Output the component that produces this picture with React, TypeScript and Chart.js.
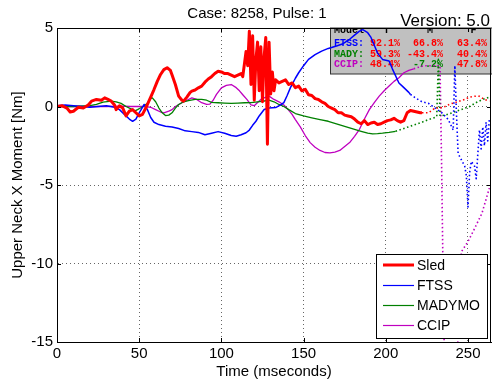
import React, { useEffect, useRef } from 'react';
import { Chart, registerables } from 'chart.js';
Chart.register(...registerables);

const FONT = '"Liberation Sans", Arial, sans-serif';
const MONO = '"Liberation Mono", "Courier New", monospace';

const chartTitle = 'Case: 8258, Pulse: 1';
const versionText = 'Version: 5.0';
const xLabel = 'Time (mseconds)';
const yLabel = 'Upper Neck X Moment [Nm]';
const xTicks = [0, 50, 100, 150, 200, 250];
const yTicks = [-15, -10, -5, 0, 5];

const seriesNames = ['Sled', 'FTSS', 'MADYMO', 'CCIP'];
const seriesColors = ['#ff0000', '#0000ff', '#008000', '#bf00bf'];
const seriesWidths = [3, 1.5, 1.3, 1.3];
// time after which the trace is drawn dotted
const dottedFrom = [222, 215, 206, 217];

const sledPoints = [
  [0, 0], [3, 0.05], [6, -0.1], [8, -0.35], [10, -0.3], [13, -0.05], [16, -0.1], [19, 0.1], [21, 0.34],
  [24, 0.45], [27, 0.4], [29, 0.55], [31, 0.45], [33, 0.34], [35, 0.1], [36, -0.2], [38, 0.05], [40, -0.1],
  [42, -0.6], [44, -0.3], [46, -0.2], [48, -0.4], [50, -0.6], [52, -0.5], [54, -0.1], [55, 0.13], [57, 0.6],
  [59, 1.08], [61, 1.6], [63, 2.04], [65, 2.35], [67, 2.47], [69, 2.3], [70, 2.0], [72, 1.4], [74, 0.66],
  [76, 0.4], [77, 0.34], [79, 0.6], [81, 0.9], [82, 0.98], [84, 1.05], [86, 1.19], [88, 1.3], [90, 1.55],
  [92, 1.75], [94, 1.9], [96, 2.1], [98, 2.25], [100, 2.2], [102, 2.1], [104, 2.1], [106, 2.0], [108, 1.9],
  [110, 2.0], [112, 2.1], [113, 1.9], [115, 3.5], [116, 2.6], [117, 4.8], [118, 1.4], [119, 4.5], [120, 0.4],
  [121, 3.0], [122, 4.1], [123, 1.0], [124, 3.8], [125, 0.3], [126, 3.2], [127, 4.4], [128, -2.4], [129, 4.1],
  [130, 0.8], [131, 2.2], [132, 1.0], [133, 1.7], [135, 1.5], [137, 1.6], [139, 1.7], [141, 1.4], [143, 1.5],
  [145, 1.2], [147, 1.3], [149, 1.0], [151, 1.1], [153, 0.75], [155, 0.7], [157, 0.5], [159, 0.45], [161, 0.3],
  [163, 0.2], [165, 0.0], [167, -0.1], [169, -0.2], [171, -0.4], [173, -0.4], [175, -0.55], [177, -0.6],
  [179, -0.65], [181, -0.8], [183, -1.0], [185, -1.1], [187, -0.9], [189, -1.15], [191, -1.05], [193, -1.0],
  [195, -1.15], [197, -1.1], [199, -1.0], [201, -0.9], [203, -0.85], [205, -0.75], [207, -0.9], [209, -1.0],
  [211, -0.9], [213, -0.4], [215, -0.25], [217, -0.3], [219, -0.35], [221, -0.4], [222, -0.4], [226, -0.4],
  [230, -0.1], [233, -0.1], [236, 0.0], [239, 0.15], [242, 0.25], [245, 0.35], [248, 0.45], [251, 0.6],
  [254, 0.65], [257, 0.65], [260, 0.45], [263, 0.35],
];

const ftssPoints = [
  [0, 0.05], [5, 0.1], [10, 0.05], [15, 0.0], [20, -0.05], [25, 0.0], [30, 0.05], [35, -0.05], [38, -0.2],
  [41, -0.5], [44, -0.8], [46, -0.94], [48, -0.8], [50, -0.4], [52, -0.05], [53, 0.13], [55, -0.2], [57, -0.7],
  [59, -1.0], [62, -1.15], [66, -1.26], [70, -1.3], [74, -1.4], [78, -1.55], [82, -1.6], [86, -1.65], [90, -1.8],
  [94, -1.7], [98, -1.6], [102, -1.7], [106, -1.85], [109, -1.9], [112, -1.8], [115, -1.67], [117, -1.5],
  [119, -1.2], [121, -0.94], [123, -0.6], [126, -0.19], [129, -0.1], [133, -0.07], [136, 0.1], [138, 0.25],
  [140, 0.7], [142, 1.2], [145, 1.8], [147, 2.15], [150, 2.6], [153, 3.0], [157, 3.3], [161, 3.53], [165, 3.7],
  [170, 3.85], [174, 4.0], [178, 4.28], [181, 4.55], [184, 4.8], [186, 4.9], [189, 4.7], [191, 4.4], [193, 3.9],
  [195, 3.4], [198, 3.0], [202, 2.9], [204, 2.4], [208, 1.5], [211, 1.2], [214, 0.9], [215, 0.77], [218, 0.55],
  [222, 0.3], [226, 0.2], [230, -0.1], [234, -0.39], [238, -0.83], [241, -1.5], [242, 2.6], [243, -0.5],
  [244, -3.0], [246, -3.4], [248, -3.8], [249, -4.4], [250, -6.4], [251, -4.2], [252, -3.5], [254, -3.8],
  [255, -4.6], [256, -3.0], [257, -1.5], [258, -2.7], [259, -1.3], [260, -2.5], [261, -1.0], [262, -2.2],
  [263, -0.8],
];

const madymoPoints = [
  [0, 0], [10, 0], [20, 0.05], [24, 0.13], [28, 0.28], [33, 0.34], [36, 0.3], [39, 0.2], [42, 0.0], [45, -0.15],
  [47, -0.3], [49, -0.2], [51, -0.08], [53, 0.05], [55, 0.2], [57, 0.5], [58, 0.55], [60, 0.3], [62, -0.1],
  [64, -0.4], [66, -0.58], [68, -0.55], [70, -0.4], [72, -0.1], [74, 0.13], [77, 0.3], [80, 0.38], [84, 0.45],
  [88, 0.45], [91, 0.4], [94, 0.26], [98, 0.24], [102, 0.22], [106, 0.2], [110, 0.22], [114, 0.24], [118, 0.25],
  [122, 0.3], [126, 0.35], [129, 0.4], [132, 0.3], [135, 0.13], [138, 0.0], [141, -0.2], [145, -0.45],
  [150, -0.6], [155, -0.72], [160, -0.83], [165, -0.94], [170, -1.1], [175, -1.26], [180, -1.42], [185, -1.58],
  [189, -1.7], [192, -1.75], [195, -1.73], [198, -1.7], [202, -1.65], [206, -1.58], [212, -1.36], [218, -1.15],
  [222, -1.0], [226, -0.83], [230, -0.7], [231, -0.65], [232, 3.0], [233, -0.6], [236, -0.55], [239, -0.45],
  [243, -0.3], [247, -0.15], [251, 0.0], [255, 0.25], [259, 0.45], [263, 0.6],
];

const ccipPoints = [
  [0, 0], [10, 0], [20, 0], [30, 0], [40, 0.02], [45, 0.0], [50, 0.0], [54, 0.0], [57, -0.05], [60, -0.2],
  [63, -0.35], [65, -0.4], [68, -0.3], [70, -0.2], [72, 0.0], [76, 0.24], [79, 0.4], [82, 0.55], [85, 0.45],
  [88, 0.24], [91, 0.13], [93, 0.15], [95, 0.4], [97, 0.77], [100, 1.19], [103, 1.35], [106, 1.4], [109, 1.2],
  [111, 1.0], [113, 0.75], [115.5, 0.45], [118, 0.1], [120, 0.05], [122, 0.25], [124, 0.45], [127, 0.6],
  [129, 0.66], [132, 0.45], [135, 0.3], [138, 0.1], [141, -0.25], [143, -0.5], [145, -0.83], [148, -1.3],
  [151, -1.85], [154, -2.3], [157, -2.6], [160, -2.8], [163, -2.93], [166, -2.96], [169, -2.9], [172, -2.8],
  [175, -2.55], [178, -2.3], [181, -1.9], [184, -1.45], [187, -0.8], [190, -0.2], [193, 0.25], [196, 0.66],
  [199, 1.0], [202, 1.3], [205, 1.6], [208, 1.83], [211, 2.15], [214, 2.3], [217, 2.4], [220, 2.5], [223, 2.6],
  [233, 2.6], [234, -4], [235, -12], [236, -18], [243, -18], [245, -11], [246, -9.25], [250, -8.6],
  [253.6, -7.86], [258.5, -6.8], [263, -5.2],
];

const allPoints = [sledPoints, ftssPoints, madymoPoints, ccipPoints];

// stats table
const tableHeader = ['Model', 'T', 'M', 'F'];
const tableRows = ['FTSS:', 'MADY:', 'CCIP:'];
const tableValues = [
  ['92.1%', '66.8%', '63.4%'],
  ['59.3%', '-43.4%', '40.4%'],
  ['48.4%', '-7.2%', '47.8%'],
];
const tableValueColors = [
  ['#ff0000', '#ff0000', '#ff0000'],
  ['#ff0000', '#ff0000', '#ff0000'],
  ['#ff0000', '#008000', '#ff0000'],
];

const decorPlugin = {
  id: 'decor',
  beforeDatasetsDraw(chart: any) {
    const { ctx, chartArea } = chart;
    const ca = chartArea;
    ctx.save();
    // gray stats box
    const bx = 330.5, by = ca.top, bw = ca.right - 330.5 + 2, bh = 74 - ca.top;
    ctx.fillStyle = '#c0c0c0';
    ctx.fillRect(bx, by, bw, bh);
    ctx.strokeStyle = '#333';
    ctx.lineWidth = 1;
    ctx.strokeRect(bx, by, bw, bh);
    ctx.beginPath();
    ctx.rect(bx, by, bw, bh);
    ctx.clip();
    ctx.font = 'bold 10px ' + MONO;
    ctx.textBaseline = 'alphabetic';
    const colCenters = [386.5, 430, 473.5];
    const colRights = [400, 443, 487];
    ctx.fillStyle = '#000';
    ctx.textAlign = 'left';
    ctx.fillText(tableHeader[0], 334, 33);
    ctx.textAlign = 'center';
    for (let i = 0; i < 3; i++) ctx.fillText(tableHeader[i + 1], colCenters[i], 33);
    const rowY = [46, 56.5, 66.5];
    for (let r = 0; r < 3; r++) {
      ctx.textAlign = 'left';
      ctx.fillStyle = seriesColors[r + 1];
      ctx.fillText(tableRows[r], 334, rowY[r]);
      ctx.textAlign = 'right';
      for (let c = 0; c < 3; c++) {
        ctx.fillStyle = tableValueColors[r][c];
        ctx.fillText(tableValues[r][c], colRights[c], rowY[r]);
      }
    }
    ctx.restore();
  },
  afterDatasetsDraw(chart: any) {
    const { ctx, chartArea } = chart;
    const ca = chartArea;
    const xs = chart.scales.x;
    const ys = chart.scales.y;
    ctx.save();
    ctx.setLineDash([]);
    // axes box
    ctx.strokeStyle = '#000';
    ctx.lineWidth = 1;
    ctx.strokeRect(Math.round(ca.left) + 0.5, Math.round(ca.top) + 0.5, Math.round(ca.right - ca.left) - 1, Math.round(ca.bottom - ca.top));
    // inward ticks
    ctx.beginPath();
    for (const v of xTicks) {
      const px = Math.round(xs.getPixelForValue(v)) + 0.5;
      ctx.moveTo(px, ca.bottom);
      ctx.lineTo(px, ca.bottom - 4);
      ctx.moveTo(px, ca.top);
      ctx.lineTo(px, ca.top + 4);
    }
    for (const v of yTicks) {
      const py = Math.round(ys.getPixelForValue(v)) + 0.5;
      ctx.moveTo(ca.left, py);
      ctx.lineTo(ca.left + 4, py);
      ctx.moveTo(ca.right, py);
      ctx.lineTo(ca.right - 4, py);
    }
    ctx.stroke();

    // legend
    const lx = 376.5, ly = 254.5, lw = 111, lh = 84;
    ctx.fillStyle = '#fff';
    ctx.fillRect(lx, ly, lw, lh);
    ctx.strokeStyle = '#000';
    ctx.lineWidth = 1;
    ctx.strokeRect(lx, ly, lw, lh);
    const rows = [265, 285.5, 305.5, 325.5];
    ctx.font = '14px ' + FONT;
    ctx.textBaseline = 'middle';
    ctx.textAlign = 'left';
    chart.data.datasets.forEach((ds: any, i: number) => {
      ctx.setLineDash([]);
      ctx.strokeStyle = seriesColors[i];
      ctx.lineWidth = i === 0 ? 3 : 1.2;
      ctx.beginPath();
      ctx.moveTo(383, rows[i]);
      ctx.lineTo(414, rows[i]);
      ctx.stroke();
      ctx.fillStyle = '#000';
      ctx.fillText(ds.label, 417, rows[i] + 1);
    });

    // title and version
    ctx.fillStyle = '#000';
    ctx.textBaseline = 'alphabetic';
    ctx.font = '15px ' + FONT;
    ctx.textAlign = 'center';
    ctx.fillText(chartTitle, 257, 18);
    ctx.font = '17px ' + FONT;
    ctx.textAlign = 'right';
    ctx.fillText(versionText, 490, 26);
    ctx.restore();
  },
};

export default function App() {
  const ref = useRef<HTMLCanvasElement | null>(null);
  useEffect(() => {
    if (!ref.current) return;
    const datasets = allPoints.map((pts, i) => ({
      label: seriesNames[i],
      data: pts.map(([x, y]) => ({ x, y })),
      borderColor: seriesColors[i],
      backgroundColor: seriesColors[i],
      borderWidth: seriesWidths[i],
      pointRadius: 0,
      tension: 0,
      fill: false,
      borderJoinStyle: 'round',
      borderCapStyle: 'butt',
      segment: {
        borderDash: (ctx: any) => (ctx.p0.parsed.x >= dottedFrom[i] ? [1.5, 2.5] : undefined),
        borderWidth: (ctx: any) => (ctx.p0.parsed.x >= dottedFrom[i] ? 1.6 : undefined),
      },
    }));
    const chart = new Chart(ref.current, {
      type: 'line',
      data: { datasets: datasets as any },
      options: {
        animation: false,
        responsive: false,
        maintainAspectRatio: false,
        layout: { padding: { top: 28, right: 1, left: 0, bottom: 0 } },
        plugins: {
          legend: { display: false },
          title: { display: false },
          tooltip: { enabled: false },
        },
        scales: {
          x: {
            type: 'linear',
            min: 0,
            max: 264,
            afterFit: (s: any) => { s.height = 41; },
            ticks: {
              stepSize: 50,
              includeBounds: false,
              padding: 3,
              color: '#000',
              maxRotation: 0,
              font: { size: 15, family: FONT },
            },
            grid: { color: '#666', drawTicks: false, lineWidth: 1 },
            border: { display: true, color: '#000', width: 1, dash: [1, 3] },
            title: {
              display: true,
              text: xLabel,
              color: '#000',
              font: { size: 15, family: FONT },
              padding: { top: 0, bottom: 2 },
            },
          },
          y: {
            type: 'linear',
            min: -15,
            max: 5,
            afterFit: (s: any) => { s.width = 57; },
            ticks: {
              stepSize: 5,
              padding: 4,
              color: '#000',
              font: { size: 15, family: FONT },
            },
            grid: { color: '#666', drawTicks: false, lineWidth: 1 },
            border: { display: true, color: '#000', width: 1, dash: [1, 3] },
            title: {
              display: true,
              text: yLabel,
              color: '#000',
              font: { size: 15, family: FONT },
              padding: { top: 9, bottom: 0 },
            },
          },
        },
      },
      plugins: [decorPlugin],
    } as any);
    return () => chart.destroy();
  }, []);
  return (
    <div style={{ position: 'absolute', left: 0, top: 0, width: 492, height: 383, background: '#fff' }}>
      <canvas ref={ref} width={492} height={383} style={{ display: 'block' }} />
    </div>
  );
}
